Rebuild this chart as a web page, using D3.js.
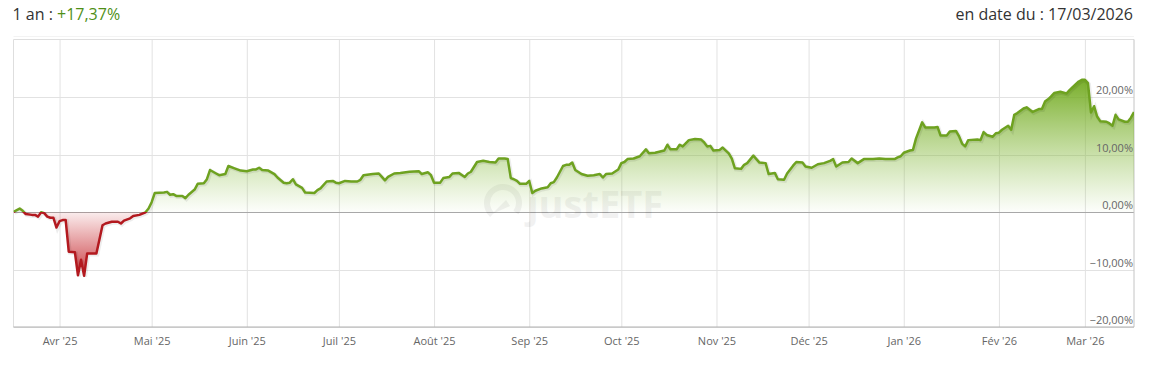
<!DOCTYPE html>
<html>
<head>
<meta charset="utf-8">
<script src="https://cdn.jsdelivr.net/npm/d3@7"></script>
<style>
  body { margin: 0; background: #fff; font-family: "Open Sans", sans-serif; }
</style>
</head>
<body>
<svg id="chart" width="1158" height="365"></svg>
<script>
// Performance over one year, in %
const dates = [
  "2025-03-17","2025-03-19","2025-03-20","2025-03-21","2025-03-23","2025-03-24","2025-03-25","2025-03-26","2025-03-27","2025-03-28","2025-03-29","2025-03-30","2025-03-31",
  "2025-04-01","2025-04-02","2025-04-03","2025-04-04","2025-04-06","2025-04-07","2025-04-08","2025-04-09","2025-04-10","2025-04-13","2025-04-15","2025-04-16","2025-04-18","2025-04-20","2025-04-21","2025-04-22","2025-04-24","2025-04-25","2025-04-27","2025-04-29","2025-04-30",
  "2025-05-01","2025-05-02","2025-05-05","2025-05-06","2025-05-07","2025-05-08","2025-05-09","2025-05-11","2025-05-12","2025-05-13","2025-05-15","2025-05-16","2025-05-18","2025-05-19","2025-05-20","2025-05-22","2025-05-23","2025-05-25","2025-05-26","2025-05-28","2025-05-30",
  "2025-06-01","2025-06-03","2025-06-04","2025-06-05","2025-06-06","2025-06-08","2025-06-10","2025-06-11","2025-06-13","2025-06-14","2025-06-15","2025-06-16","2025-06-17","2025-06-19","2025-06-20","2025-06-23","2025-06-24","2025-06-25","2025-06-27","2025-06-29","2025-06-30",
  "2025-07-01","2025-07-03","2025-07-05","2025-07-07","2025-07-08","2025-07-09","2025-07-12","2025-07-14","2025-07-15","2025-07-16","2025-07-17","2025-07-19","2025-07-21","2025-07-24","2025-07-27","2025-07-28","2025-07-30","2025-07-31",
  "2025-08-01","2025-08-03","2025-08-04","2025-08-06","2025-08-07","2025-08-09","2025-08-11","2025-08-12","2025-08-13","2025-08-15","2025-08-17","2025-08-19","2025-08-21","2025-08-22","2025-08-24","2025-08-25","2025-08-26","2025-08-27","2025-08-28","2025-08-29","2025-08-31",
  "2025-09-01","2025-09-02","2025-09-03","2025-09-05","2025-09-07","2025-09-08","2025-09-09","2025-09-10","2025-09-12","2025-09-13","2025-09-14","2025-09-15","2025-09-16","2025-09-18","2025-09-20","2025-09-22","2025-09-24","2025-09-25","2025-09-26","2025-09-28","2025-09-30",
  "2025-10-01","2025-10-02","2025-10-03","2025-10-05","2025-10-07","2025-10-09","2025-10-10","2025-10-12","2025-10-15","2025-10-16","2025-10-17","2025-10-19","2025-10-20","2025-10-21","2025-10-23","2025-10-25","2025-10-27","2025-10-28","2025-10-29","2025-10-30","2025-10-31",
  "2025-11-02","2025-11-03","2025-11-05","2025-11-06","2025-11-07","2025-11-09","2025-11-10","2025-11-11","2025-11-13","2025-11-14","2025-11-15","2025-11-17","2025-11-18","2025-11-20","2025-11-21","2025-11-23","2025-11-24","2025-11-26","2025-11-27","2025-11-29","2025-11-30",
  "2025-12-02","2025-12-04","2025-12-06","2025-12-08","2025-12-09","2025-12-10","2025-12-12","2025-12-14","2025-12-15","2025-12-17","2025-12-19","2025-12-22","2025-12-24","2025-12-26","2025-12-29","2025-12-30","2025-12-31",
  "2026-01-01","2026-01-03","2026-01-04","2026-01-05","2026-01-07","2026-01-08","2026-01-11","2026-01-12","2026-01-13","2026-01-15","2026-01-16","2026-01-18","2026-01-19","2026-01-20","2026-01-21","2026-01-22","2026-01-25","2026-01-26","2026-01-27","2026-01-28","2026-01-30","2026-01-31",
  "2026-02-01","2026-02-02","2026-02-04","2026-02-05","2026-02-06","2026-02-07","2026-02-09","2026-02-10","2026-02-12","2026-02-14","2026-02-15","2026-02-16","2026-02-17","2026-02-18","2026-02-19","2026-02-21","2026-02-23","2026-02-24","2026-02-25","2026-02-27","2026-02-28",
  "2026-03-01","2026-03-02","2026-03-03","2026-03-04","2026-03-05","2026-03-06","2026-03-08","2026-03-09","2026-03-10","2026-03-11","2026-03-12","2026-03-14","2026-03-15","2026-03-16","2026-03-17"
];
const values = [
  0.0,0.6,0.2,-0.35,-0.5,-0.5,-0.8,-0.05,-0.2,-0.8,-1.0,-1.0,-2.7,
  -1.6,-1.4,-1.4,-6.9,-7.0,-11.0,-8.3,-11.1,-7.2,-7.2,-2.3,-2.0,-1.7,-1.7,-2.0,-1.5,-1.1,-0.7,-0.5,-0.05,0.6,
  1.7,3.3,3.4,3.5,3.0,3.1,2.8,2.8,2.4,3.0,3.9,4.9,5.0,5.7,7.3,6.7,6.4,6.6,8.0,7.6,7.2,
  7.1,7.4,7.4,7.7,7.3,7.2,6.6,6.0,5.1,5.0,5.1,5.7,4.8,4.2,3.4,3.3,3.8,4.1,5.3,5.4,5.1,
  5.0,5.4,5.3,5.3,5.6,6.4,6.6,6.7,6.1,5.5,6.1,6.7,6.8,7.0,7.1,6.6,6.9,6.4,
  5.1,5.1,5.9,6.1,6.7,6.8,6.1,6.7,7.0,8.7,8.9,8.7,8.6,9.3,9.3,9.2,5.9,5.7,5.4,4.9,4.9,
  5.4,3.3,3.7,4.1,4.3,5.0,5.2,6.0,8.0,8.2,8.2,8.6,7.3,6.6,6.3,6.4,6.6,6.0,6.6,6.7,7.4,
  8.5,8.7,9.2,9.3,9.7,10.9,10.2,10.3,10.7,11.7,10.9,10.9,11.7,11.4,12.5,12.7,12.6,12.1,11.4,11.5,10.7,
  10.8,11.2,10.2,9.3,7.6,7.5,8.2,8.5,9.8,9.2,8.6,8.5,6.6,6.8,5.7,5.6,6.7,8.1,8.7,8.6,7.9,
  7.7,8.3,8.5,8.9,9.2,7.9,8.6,8.7,9.3,8.5,9.2,9.2,9.3,9.2,9.2,9.5,9.7,
  10.3,10.7,10.8,12.8,15.6,14.7,14.7,14.8,13.3,13.3,14.0,14.1,13.2,11.9,11.4,12.5,12.6,12.5,13.9,13.4,13.1,13.7,
  13.8,14.3,15.0,14.3,16.9,17.2,18.0,18.2,17.4,17.9,17.9,19.2,19.6,20.1,20.7,20.9,20.6,21.2,21.7,22.7,23.0,
  23.0,22.4,17.3,18.4,16.6,15.8,15.7,15.4,15.0,16.9,16.1,15.7,15.7,16.4,17.37
];
const monthLabels = ["Avr '25","Mai '25","Juin '25","Juil '25","Août '25","Sep '25","Oct '25","Nov '25","Déc '25","Jan '26","Fév '26","Mar '26"];
const yTicks = [-20, -10, 0, 10, 20];
const yDomain = [-20, 30];
const periodLabel = "1 an : ";
const periodReturn = "+17,37%";
const asOfLabel = "en date du : 17/03/2026";

let width = 1158, height = 365;
let margin = { top: 39.5, right: 24, bottom: 38, left: 13.5 };
let green = "#6ea220", red = "#b3191f";

const parse = d3.timeParse("%Y-%m-%d");
const data = dates.map((d, i) => ({ date: parse(d), value: values[i] }));
const pct = d3.formatLocale({ decimal: ",", thousands: " ", grouping: [3], currency: ["", "€"] }).format(".2f");

const svg = d3.select("#chart");
const x = d3.scaleTime()
  .domain(d3.extent(data, d => d.date))
  .range([margin.left, width - margin.right]);
const y = d3.scaleLinear()
  .domain(yDomain)
  .range([height - margin.bottom, margin.top]);

const x0 = x.range()[0], x1 = x.range()[1];
const yTop = y.range()[1], yBot = y.range()[0];

// header
const head = svg.append("text")
  .attr("x", x0 - 1).attr("y", 20)
  .style("font-size", "16px").style("fill", "#333");
head.append("tspan").text(periodLabel);
head.append("tspan").style("fill", "#4f8f17").text(periodReturn);

svg.append("text")
  .attr("x", x1 - 1).attr("y", 20)
  .attr("text-anchor", "end")
  .style("font-size", "16px").style("fill", "#333")
  .text(asOfLabel);

svg.append("line")
  .attr("x1", x0).attr("x2", x1).attr("y1", 36.5).attr("y2", 36.5)
  .style("stroke", "#f3f3f3");

// gradients
const defs = svg.append("defs");
const vMax = d3.max(values), vMin = d3.min(values);
const zOff = (y(0) - y(vMax)) / (y(vMin) - y(vMax));

const areaGrad = defs.append("linearGradient")
  .attr("id", "areaGrad").attr("gradientUnits", "userSpaceOnUse")
  .attr("x1", 0).attr("x2", 0).attr("y1", y(vMax)).attr("y2", y(vMin));
areaGrad.append("stop").attr("offset", 0).attr("stop-color", "#72aa20").attr("stop-opacity", 0.95);
areaGrad.append("stop").attr("offset", zOff).attr("stop-color", "#8cbf45").attr("stop-opacity", 0.02);
areaGrad.append("stop").attr("offset", zOff).attr("stop-color", "#c8262c").attr("stop-opacity", 0.08);
areaGrad.append("stop").attr("offset", 1).attr("stop-color", "#c01d23").attr("stop-opacity", 0.85);

const lineGrad = defs.append("linearGradient")
  .attr("id", "lineGrad").attr("gradientUnits", "userSpaceOnUse")
  .attr("x1", 0).attr("x2", 0).attr("y1", y(vMax)).attr("y2", y(vMin));
lineGrad.append("stop").attr("offset", zOff).attr("stop-color", green);
lineGrad.append("stop").attr("offset", zOff).attr("stop-color", red);

defs.append("clipPath").attr("id", "plotClip")
  .append("rect")
  .attr("x", x0).attr("y", yTop).attr("width", x1 - x0).attr("height", yBot - yTop);

// grid: months
const monthStarts = d3.timeMonth.range(d3.timeMonth.ceil(x.domain()[0]), x.domain()[1]);
const xAxis = d3.axisBottom(x)
  .tickValues(monthStarts)
  .tickSize(-(yBot - yTop))
  .tickPadding(10)
  .tickFormat((d, i) => monthLabels[i]);

const gx = svg.append("g")
  .attr("transform", `translate(0,${yBot})`)
  .call(xAxis);
gx.select(".domain").remove();
gx.selectAll(".tick line").style("stroke", "#e2e2e2");
gx.selectAll(".tick text")
  .style("font-family", "'Open Sans', sans-serif")
  .style("font-size", "11px").style("fill", "#666");

// grid: percentages
const gy = svg.append("g");
gy.selectAll("line")
  .data(yTicks)
  .enter()
  .append("line")
  .attr("x1", x0).attr("x2", x1)
  .attr("y1", d => Math.round(y(d)) + 0.5).attr("y2", d => Math.round(y(d)) + 0.5)
  .style("stroke", d => d === 0 ? "#a8a8a8" : "#e2e2e2");

// frame
svg.append("line").attr("x1", x0).attr("x2", x1).attr("y1", yTop).attr("y2", yTop).style("stroke", "#dedede");
svg.append("line").attr("x1", x0).attr("x2", x0).attr("y1", yTop).attr("y2", yBot).style("stroke", "#dedede");
svg.append("line").attr("x1", x1).attr("x2", x1).attr("y1", yTop).attr("y2", yBot).style("stroke", "#c4c4c4");
svg.append("line").attr("x1", x0).attr("x2", x1).attr("y1", yBot).attr("y2", yBot).style("stroke", "#b0b0b0");

// watermark
const wm = svg.append("g").style("opacity", 0.05);
wm.append("path")
  .attr("transform", "translate(503,203)")
  .attr("d", d3.arc().innerRadius(13).outerRadius(19).startAngle(-2.4).endAngle(2.2)())
  .style("fill", "#000");
wm.append("path")
  .attr("d", "M492,214 L506,200 L510,206 Z")
  .style("fill", "#000");
const wmText = wm.append("text")
  .attr("x", 527).attr("y", 218)
  .style("font-family", "'Open Sans', sans-serif")
  .style("font-size", "38px").style("font-weight", "bold").style("fill", "#000");
wmText.append("tspan").text("just");
wmText.append("tspan").text("ETF");

// area + line
const plot = svg.append("g").attr("clip-path", "url(#plotClip)");

const area = d3.area()
  .x(d => x(d.date))
  .y0(y(0))
  .y1(d => y(d.value));

const line = d3.line()
  .x(d => x(d.date))
  .y(d => y(d.value));

plot.append("path")
  .datum(data)
  .attr("d", area)
  .style("fill", "url(#areaGrad)");

// soft shadow under the line
plot.append("path")
  .datum(data)
  .attr("d", line)
  .attr("transform", "translate(1,1)")
  .attr("fill", "none")
  .attr("stroke-width", 4)
  .style("stroke", "rgba(0,0,0,0.07)");

plot.append("path")
  .datum(data)
  .attr("d", line)
  .attr("fill", "none")
  .attr("stroke-width", 2.5)
  .attr("stroke-linejoin", "round")
  .style("stroke", "url(#lineGrad)");

// y labels, inside right edge
svg.append("g")
  .selectAll("text")
  .data(yTicks)
  .enter()
  .append("text")
  .attr("x", x1 - 1)
  .attr("y", d => y(d) - 3)
  .attr("text-anchor", "end")
  .style("font-size", "11px").style("fill", "#666")
  .text(d => pct(d) + "%");
</script>
</body>
</html>
